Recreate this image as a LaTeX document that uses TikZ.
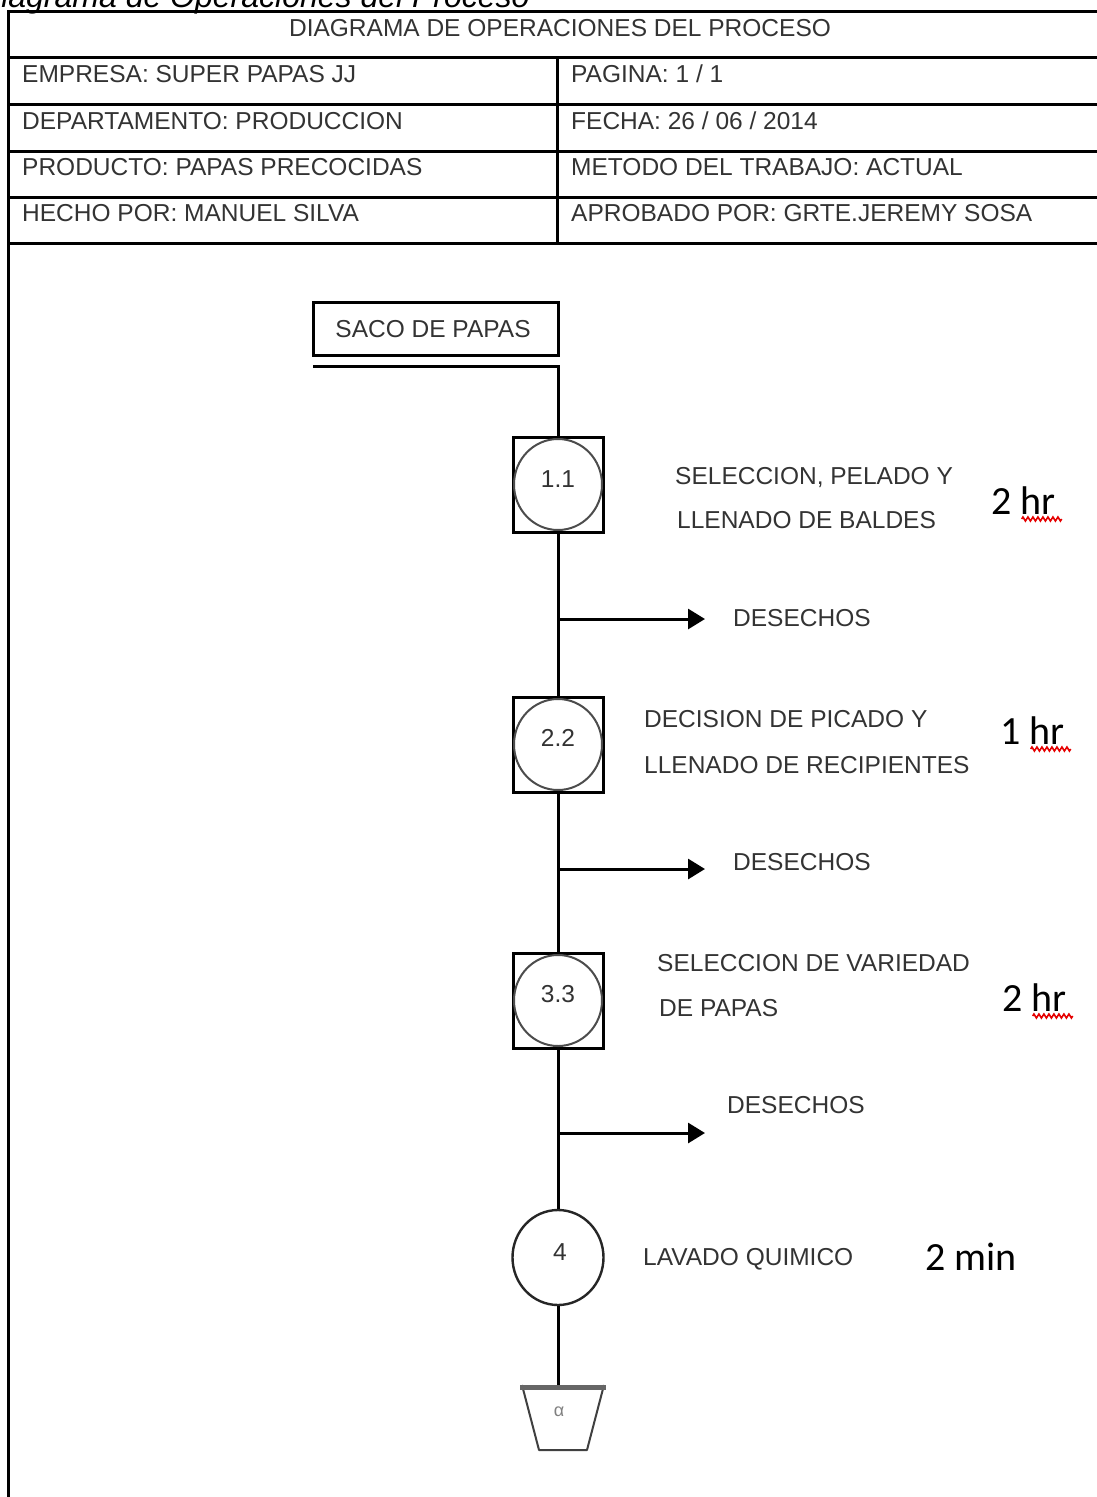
\documentclass[tikz,border=0pt]{standalone}
\usepackage{fontspec}
\setmainfont{Liberation Sans}
\newfontfamily\calib{Carlito}
\usetikzlibrary{arrows.meta,decorations.pathmorphing,calc,shapes.geometric}
\begin{document}
\begin{tikzpicture}[x=1pt,y=-1pt,
  txt/.style={inner sep=0pt, text height=17.5pt, text depth=0pt, anchor=west, text=black!80, font=\fontsize{24.5}{28}\selectfont},
  rule/.style={line width=3pt, black},
  conn/.style={line width=3pt, black},
  opbox/.style={draw, line width=3pt, minimum width=90pt, minimum height=95pt, inner sep=0pt},
  ring/.style={line width=2pt, black!70},
  num/.style={inner sep=0pt, text=black!80, font=\fontsize{24.5}{28}\selectfont},
  tiempo/.style={inner sep=0pt, anchor=base west, font=\calib\fontsize{40}{44}\selectfont},
  squig/.style={red!90!black, line width=1.6pt, decorate, decoration={zigzag, segment length=5pt, amplitude=2pt}},
  tip/.style={-{Triangle[length=17pt,width=20pt]}}
]
\useasboundingbox (0,0) rectangle (1097,1497);
\fill[white] (0,0) rectangle (1097,1497);

% caption (cut by the page top, as in the reference)
\node[inner sep=0pt, anchor=base west, font=\itshape\fontsize{32}{36}\selectfont] (cap) at (-22,7) {Diagrama de Operaciones del Proceso};

% header table
\draw[rule] (8,1500) -- (8,11) -- (1100,11);
\foreach \yy in {57,104,151,197,243} \draw[rule] (8,\yy) -- (1100,\yy);
\draw[rule] (557,57) -- (557,243);

\node[txt, anchor=center] (title) at (560,28) {DIAGRAMA DE OPERACIONES DEL PROCESO};
\node[txt] (h1l) at (22,74) {EMPRESA: SUPER PAPAS JJ};
\node[txt] (h1r) at (571,74) {PAGINA: 1 / 1};
\node[txt] (h2l) at (22,121) {DEPARTAMENTO: PRODUCCION};
\node[txt] (h2r) at (571,121) {FECHA: 26 / 06 / 2014};
\node[txt] (h3l) at (22,167) {PRODUCTO: PAPAS PRECOCIDAS};
\node[txt] (h3r) at (571,167) {METODO DEL TRABAJO: ACTUAL};
\node[txt] (h4l) at (22,213) {HECHO POR: MANUEL SILVA};
\node[txt] (h4r) at (571,213) {APROBADO POR: GRTE.JEREMY SOSA};

% raw material
\node[draw, line width=3pt, minimum width=245pt, minimum height=53pt, inner sep=0pt,
      text=black!80, font=\fontsize{24.5}{28}\selectfont, text height=17.5pt, text depth=0pt] (saco) at (435.5,328.5) {SACO DE PAPAS\hspace*{5pt}};
\coordinate (feed) at (313,366);

% operations
\node[opbox] (op1) at (558,484.5) {};
\draw[ring] (op1.center) ellipse [x radius=44pt, y radius=45.5pt];
\node[num] (n1) at (558,479) {1.1};

\node[opbox] (op2) at (558,744.5) {};
\draw[ring] (op2.center) ellipse [x radius=44pt, y radius=45.5pt];
\node[num] (n2) at (558,738) {2.2};

\node[opbox] (op3) at (558,1000.5) {};
\draw[ring] (op3.center) ellipse [x radius=44pt, y radius=45.5pt];
\node[num] (n3) at (558,994) {3.3};

\node[draw, ellipse, line width=2.4pt, black!85, minimum width=91pt, minimum height=95pt, inner sep=0pt] (op4) at (558,1257.5) {};
\node[num] (n4) at (560,1252) {4};

% storage
\coordinate (alm) at (558,1385);
\draw[black!75, line width=2pt, line join=round] (522,1385) -- (539,1450) -- (587,1450) -- (604,1385);
\draw[gray!80!black, line width=4.5pt] (520,1387.5) -- (606,1387.5);
\node[inner sep=0pt, text=gray, font=\fontsize{18}{20}\selectfont] (alpha) at (559,1412) {α};

% connectors
\draw[conn] (feed) -| (op1.north);
\draw[conn] (op1.south) -- (op2.north);
\draw[conn] (op2.south) -- (op3.north);
\draw[conn] (op3.south) -- (op4.north);
\draw[conn] (op4.south) -- (alm);

\coordinate (b1) at (558,619);  \coordinate (d1) at (705,619);
\coordinate (b2) at (558,869);  \coordinate (d2) at (705,869);
\coordinate (b3) at (558,1133); \coordinate (d3) at (705,1133);
\draw[conn, tip] (b1) -- (d1);
\draw[conn, tip] (b2) -- (d2);
\draw[conn, tip] (b3) -- (d3);

% labels
\node[txt] (l1a) at (675,476) {SELECCION, PELADO Y};
\node[txt] (l1b) at (677,520) {LLENADO DE BALDES};
\node[txt] (l2a) at (644,719) {DECISION DE PICADO Y};
\node[txt] (l2b) at (644,765) {LLENADO DE RECIPIENTES};
\node[txt] (l3a) at (657,963) {SELECCION DE VARIEDAD};
\node[txt] (l3b) at (659,1008) {DE PAPAS};
\node[txt] (l4) at (643,1257) {LAVADO QUIMICO};
\node[txt] (w1) at (733,618) {DESECHOS};
\node[txt] (w2) at (733,862) {DESECHOS};
\node[txt] (w3) at (727,1105) {DESECHOS};

% times
\node[tiempo] (t1) at (991,514) {2 hr};
\draw[squig] ($(t1.base east)+(-34,5)$) -- ($(t1.base east)+(6,5)$);
\node[tiempo] (t2) at (1000,744) {1 hr};
\draw[squig] ($(t2.base east)+(-34,5)$) -- ($(t2.base east)+(6,5)$);
\node[tiempo] (t3) at (1002,1011) {2 hr};
\draw[squig] ($(t3.base east)+(-34,5)$) -- ($(t3.base east)+(6,5)$);
\node[tiempo] (t4) at (925,1270) {2 min};
\end{tikzpicture}
\end{document}
